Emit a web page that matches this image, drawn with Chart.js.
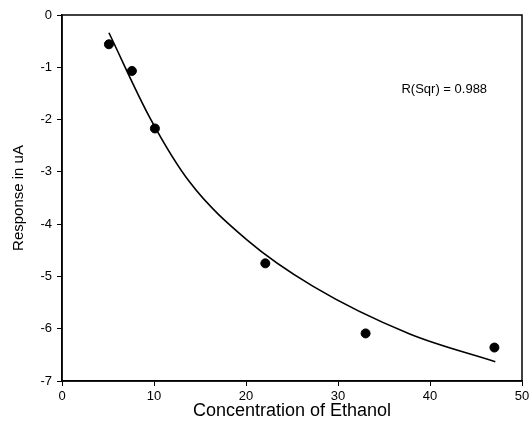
<!DOCTYPE html>
<html>
<head>
<meta charset="utf-8">
<style>
  html, body { margin: 0; padding: 0; background: white; }
  #wrap { width: 529px; height: 424px; }
</style>
</head>
<body>
<div id="wrap"><canvas id="myChart"></canvas></div>

<script src="https://cdn.jsdelivr.net/npm/chart.js"></script>
<script>
// measured points
const concX = [5.1, 7.6, 10.1, 22.1, 33.0, 47.0]
const responseY = [-0.56, -1.07, -2.17, -4.75, -6.09, -6.36]

// fitted curve
const fitX = [5.1, 9.6, 13.9, 20.1, 27.3, 37.8, 47.1]
const fitY = [-0.34, -1.98, -3.20, -4.30, -5.19, -6.10, -6.63]

const rsqText = 'R(Sqr) = 0.988'
const rsqAt = [36.9, -1.42]

const FONT = "'Liberation Sans', Arial, sans-serif"

const frame = {
    id: 'frame',
    beforeDraw: (chart) => {
        const {ctx, width, height} = chart
        ctx.save()
        ctx.fillStyle = 'white'
        ctx.fillRect(0, 0, width, height)
        ctx.restore()
    },
    afterDraw: (chart) => {
        const {ctx, chartArea: a, scales} = chart
        ctx.save()
        ctx.strokeStyle = '#000'
        ctx.lineWidth = 1.5
        ctx.strokeRect(a.left, a.top, a.right - a.left, a.bottom - a.top)
        ctx.fillStyle = '#000'
        ctx.font = '13px ' + FONT
        ctx.textBaseline = 'middle'
        ctx.textAlign = 'left'
        ctx.fillText(rsqText, scales.x.getPixelForValue(rsqAt[0]), scales.y.getPixelForValue(rsqAt[1]))
        ctx.restore()
    }
}

const ctx = document.getElementById('myChart')
const myChart = new Chart(ctx, {
    type: 'scatter',
    data: {
        datasets: [{
            label: 'data',
            data: concX.map((x, i) => ({x: x, y: responseY[i]})),
            backgroundColor: '#000',
            borderColor: '#000',
            pointRadius: 4.5,
            showLine: false
        }, {
            label: 'fit',
            data: fitX.map((x, i) => ({x: x, y: fitY[i]})),
            borderColor: '#000',
            borderWidth: 1.6,
            pointRadius: 0,
            showLine: true,
            cubicInterpolationMode: 'monotone',
            fill: false
        }]
    },
    options: {
        responsive: true,
        maintainAspectRatio: false,
        animation: false,
        layout: { padding: { left: 0, right: 0, top: 15, bottom: 0 } },
        plugins: { legend: { display: false }, tooltip: { enabled: false } },
        scales: {
            x: {
                type: 'linear', min: 0, max: 50,
                afterFit: (s) => { s.height = 43; s.paddingRight = 7 },
                ticks: { stepSize: 10, color: '#000', font: { family: FONT, size: 13 }, padding: 3, maxRotation: 0 },
                grid: { drawOnChartArea: false, tickLength: 5, color: '#000', tickColor: '#000' },
                border: { color: '#000', width: 1.5 },
                title: { display: true, text: 'Concentration of Ethanol', color: '#000',
                         font: { family: FONT, size: 18 }, padding: { top: 0, bottom: 2 } }
            },
            y: {
                type: 'linear', min: -7, max: 0,
                afterFit: (s) => { s.width = 62 },
                ticks: { stepSize: 1, color: '#000', font: { family: FONT, size: 13 }, padding: 5 },
                grid: { drawOnChartArea: false, tickLength: 5, color: '#000', tickColor: '#000' },
                border: { color: '#000', width: 1.5 },
                title: { display: true, text: 'Response in uA', color: '#000',
                         font: { family: FONT, size: 15 }, padding: { top: 10, bottom: 0 } }
            }
        }
    },
    plugins: [frame]
})
</script>
</body>
</html>
